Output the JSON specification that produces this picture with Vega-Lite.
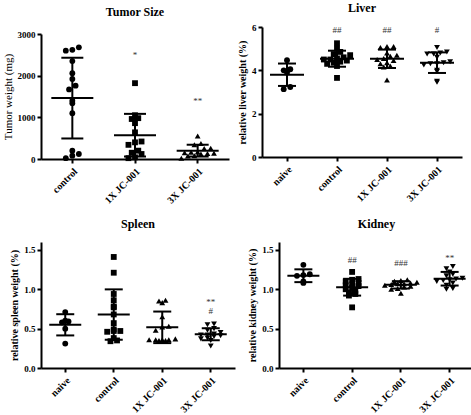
{
  "$schema": "https://vega.github.io/schema/vega-lite/v6.json",
  "padding": {"left": 2, "top": 2, "right": 0, "bottom": 0},
  "background": "white",
  "datasets": {
    "tumor": [
      {"group": "control", "value": 2620}, {"group": "control", "value": 2600}, {"group": "control", "value": 2680},
      {"group": "control", "value": 2350}, {"group": "control", "value": 2060}, {"group": "control", "value": 1920},
      {"group": "control", "value": 1760}, {"group": "control", "value": 1670}, {"group": "control", "value": 1400},
      {"group": "control", "value": 1340}, {"group": "control", "value": 1100}, {"group": "control", "value": 120},
      {"group": "control", "value": 200}, {"group": "control", "value": 80}, {"group": "control", "value": 20},
      {"group": "1X JC-001", "value": 1820}, {"group": "1X JC-001", "value": 1050}, {"group": "1X JC-001", "value": 980},
      {"group": "1X JC-001", "value": 960}, {"group": "1X JC-001", "value": 860}, {"group": "1X JC-001", "value": 640},
      {"group": "1X JC-001", "value": 420}, {"group": "1X JC-001", "value": 340}, {"group": "1X JC-001", "value": 400},
      {"group": "1X JC-001", "value": 200}, {"group": "1X JC-001", "value": 150}, {"group": "1X JC-001", "value": 120},
      {"group": "1X JC-001", "value": 40}, {"group": "1X JC-001", "value": 20},
      {"group": "3X JC-001", "value": 550}, {"group": "3X JC-001", "value": 370}, {"group": "3X JC-001", "value": 340},
      {"group": "3X JC-001", "value": 260}, {"group": "3X JC-001", "value": 250}, {"group": "3X JC-001", "value": 170},
      {"group": "3X JC-001", "value": 160}, {"group": "3X JC-001", "value": 150}, {"group": "3X JC-001", "value": 140},
      {"group": "3X JC-001", "value": 130}, {"group": "3X JC-001", "value": 120}, {"group": "3X JC-001", "value": 80},
      {"group": "3X JC-001", "value": 70}, {"group": "3X JC-001", "value": 20}
    ],
    "liver": [
      {"group": "naive", "value": 4.47}, {"group": "naive", "value": 4.05}, {"group": "naive", "value": 4.0},
      {"group": "naive", "value": 3.9}, {"group": "naive", "value": 3.13}, {"group": "naive", "value": 3.23},
      {"group": "control", "value": 5.25}, {"group": "control", "value": 5.0}, {"group": "control", "value": 4.85},
      {"group": "control", "value": 4.75}, {"group": "control", "value": 4.7}, {"group": "control", "value": 4.6},
      {"group": "control", "value": 4.55}, {"group": "control", "value": 4.5}, {"group": "control", "value": 4.5},
      {"group": "control", "value": 4.45}, {"group": "control", "value": 4.4}, {"group": "control", "value": 4.35},
      {"group": "control", "value": 4.3}, {"group": "control", "value": 4.2}, {"group": "control", "value": 3.65},
      {"group": "1X JC-001", "value": 5.1}, {"group": "1X JC-001", "value": 5.1}, {"group": "1X JC-001", "value": 5.05},
      {"group": "1X JC-001", "value": 4.8}, {"group": "1X JC-001", "value": 4.7}, {"group": "1X JC-001", "value": 4.65},
      {"group": "1X JC-001", "value": 4.55}, {"group": "1X JC-001", "value": 4.5}, {"group": "1X JC-001", "value": 4.45},
      {"group": "1X JC-001", "value": 4.35}, {"group": "1X JC-001", "value": 4.3}, {"group": "1X JC-001", "value": 4.2},
      {"group": "1X JC-001", "value": 4.15}, {"group": "1X JC-001", "value": 3.55},
      {"group": "3X JC-001", "value": 5.05}, {"group": "3X JC-001", "value": 4.85}, {"group": "3X JC-001", "value": 4.8},
      {"group": "3X JC-001", "value": 4.75}, {"group": "3X JC-001", "value": 4.75}, {"group": "3X JC-001", "value": 4.6},
      {"group": "3X JC-001", "value": 4.4}, {"group": "3X JC-001", "value": 4.35}, {"group": "3X JC-001", "value": 4.3},
      {"group": "3X JC-001", "value": 4.3}, {"group": "3X JC-001", "value": 4.25}, {"group": "3X JC-001", "value": 4.0},
      {"group": "3X JC-001", "value": 3.95}, {"group": "3X JC-001", "value": 3.5}, {"group": "3X JC-001", "value": 3.45}
    ],
    "spleen": [
      {"group": "naive", "value": 0.71}, {"group": "naive", "value": 0.6}, {"group": "naive", "value": 0.59},
      {"group": "naive", "value": 0.58}, {"group": "naive", "value": 0.5}, {"group": "naive", "value": 0.31},
      {"group": "control", "value": 1.41}, {"group": "control", "value": 1.21}, {"group": "control", "value": 0.94},
      {"group": "control", "value": 0.86}, {"group": "control", "value": 0.78}, {"group": "control", "value": 0.77},
      {"group": "control", "value": 0.68}, {"group": "control", "value": 0.57}, {"group": "control", "value": 0.49},
      {"group": "control", "value": 0.47}, {"group": "control", "value": 0.46}, {"group": "control", "value": 0.47},
      {"group": "control", "value": 0.38}, {"group": "control", "value": 0.35}, {"group": "control", "value": 0.34},
      {"group": "1X JC-001", "value": 0.86}, {"group": "1X JC-001", "value": 0.85}, {"group": "1X JC-001", "value": 0.83},
      {"group": "1X JC-001", "value": 0.65}, {"group": "1X JC-001", "value": 0.53}, {"group": "1X JC-001", "value": 0.52},
      {"group": "1X JC-001", "value": 0.48}, {"group": "1X JC-001", "value": 0.37}, {"group": "1X JC-001", "value": 0.36},
      {"group": "1X JC-001", "value": 0.36}, {"group": "1X JC-001", "value": 0.36}, {"group": "1X JC-001", "value": 0.36},
      {"group": "1X JC-001", "value": 0.35}, {"group": "1X JC-001", "value": 0.35},
      {"group": "3X JC-001", "value": 0.56}, {"group": "3X JC-001", "value": 0.55}, {"group": "3X JC-001", "value": 0.5},
      {"group": "3X JC-001", "value": 0.48}, {"group": "3X JC-001", "value": 0.45}, {"group": "3X JC-001", "value": 0.43},
      {"group": "3X JC-001", "value": 0.42}, {"group": "3X JC-001", "value": 0.42}, {"group": "3X JC-001", "value": 0.41},
      {"group": "3X JC-001", "value": 0.4}, {"group": "3X JC-001", "value": 0.38}, {"group": "3X JC-001", "value": 0.37},
      {"group": "3X JC-001", "value": 0.35}, {"group": "3X JC-001", "value": 0.28}
    ],
    "kidney": [
      {"group": "naive", "value": 1.31}, {"group": "naive", "value": 1.19}, {"group": "naive", "value": 1.18},
      {"group": "naive", "value": 1.17}, {"group": "naive", "value": 1.1}, {"group": "naive", "value": 1.08},
      {"group": "control", "value": 1.22}, {"group": "control", "value": 1.13}, {"group": "control", "value": 1.12},
      {"group": "control", "value": 1.1}, {"group": "control", "value": 1.08}, {"group": "control", "value": 1.06},
      {"group": "control", "value": 1.05}, {"group": "control", "value": 1.04}, {"group": "control", "value": 1.02},
      {"group": "control", "value": 1.0}, {"group": "control", "value": 0.98}, {"group": "control", "value": 0.96},
      {"group": "control", "value": 0.94}, {"group": "control", "value": 0.92}, {"group": "control", "value": 0.77},
      {"group": "1X JC-001", "value": 1.12}, {"group": "1X JC-001", "value": 1.11}, {"group": "1X JC-001", "value": 1.1},
      {"group": "1X JC-001", "value": 1.09}, {"group": "1X JC-001", "value": 1.08}, {"group": "1X JC-001", "value": 1.07},
      {"group": "1X JC-001", "value": 1.07}, {"group": "1X JC-001", "value": 1.06}, {"group": "1X JC-001", "value": 1.05},
      {"group": "1X JC-001", "value": 1.04}, {"group": "1X JC-001", "value": 1.03}, {"group": "1X JC-001", "value": 1.01},
      {"group": "1X JC-001", "value": 1.0}, {"group": "1X JC-001", "value": 0.95},
      {"group": "3X JC-001", "value": 1.29}, {"group": "3X JC-001", "value": 1.26}, {"group": "3X JC-001", "value": 1.22},
      {"group": "3X JC-001", "value": 1.19}, {"group": "3X JC-001", "value": 1.17}, {"group": "3X JC-001", "value": 1.14},
      {"group": "3X JC-001", "value": 1.13}, {"group": "3X JC-001", "value": 1.12}, {"group": "3X JC-001", "value": 1.11},
      {"group": "3X JC-001", "value": 1.1}, {"group": "3X JC-001", "value": 1.08}, {"group": "3X JC-001", "value": 1.05},
      {"group": "3X JC-001", "value": 1.01}, {"group": "3X JC-001", "value": 1.0}
    ],
    "annot": [
      {"panel": "tumor", "group": "1X JC-001", "value": 2500, "label": "*"},
      {"panel": "tumor", "group": "3X JC-001", "value": 1400, "label": "**"},
      {"panel": "liver", "group": "control", "value": 5.85, "label": "##"},
      {"panel": "liver", "group": "1X JC-001", "value": 5.85, "label": "##"},
      {"panel": "liver", "group": "3X JC-001", "value": 5.85, "label": "#"},
      {"panel": "spleen", "group": "3X JC-001", "value": 0.84, "label": "**"},
      {"panel": "spleen", "group": "3X JC-001", "value": 0.72, "label": "#"},
      {"panel": "kidney", "group": "control", "value": 1.37, "label": "##"},
      {"panel": "kidney", "group": "1X JC-001", "value": 1.33, "label": "###"},
      {"panel": "kidney", "group": "3X JC-001", "value": 1.4, "label": "**"}
    ]
  },
  "resolve": {"scale": {"shape": "independent", "x": "independent", "y": "independent", "xOffset": "independent"}},
  "vconcat": [
    {
      "resolve": {"scale": {"shape": "independent", "x": "independent", "y": "independent", "xOffset": "independent"}},
      "spacing": 8,
      "hconcat": [
        {
          "width": 188, "height": 132,
          "title": {"text": "Tumor Size", "offset": 8},
          "layer": [
            {
              "data": {"name": "tumor"},
              "transform": [
                {"calculate": "floor(datum.value / 150)", "as": "bin"},
                {"window": [{"op": "row_number", "as": "rn"}, {"op": "count", "as": "cnt"}], "groupby": ["group", "bin"], "sort": [{"field": "value", "order": "ascending"}], "frame": [null, null]},
                {"calculate": "datum.rn - (datum.cnt + 1) / 2", "as": "off"}
              ],
              "mark": {"type": "point", "filled": true, "size": 34, "color": "black", "opacity": 1},
              "encoding": {
                "x": {"field": "group", "type": "nominal", "scale": {"domain": ["control", "1X JC-001", "3X JC-001"], "paddingInner": 0, "paddingOuter": 0}, "axis": {"title": null}},
                "xOffset": {"field": "off", "type": "quantitative", "scale": {"domain": [-4.8, 4.8]}},
                "y": {"field": "value", "type": "quantitative", "scale": {"domain": [0, 3000], "range": [132, 7]}, "axis": {"title": "Tumor weight (mg)", "values": [0, 1000, 2000, 3000], "format": "d", "titleFontWeight": "normal", "titleFontSize": 11}},
                "shape": {"field": "group", "type": "nominal", "scale": {"domain": ["control", "1X JC-001", "3X JC-001"], "range": ["circle", "square", "triangle-up"]}, "legend": null}
              }
            },
            {
              "data": {"name": "tumor"},
              "transform": [
                {"aggregate": [{"op": "mean", "field": "value", "as": "m"}, {"op": "stdev", "field": "value", "as": "sd"}], "groupby": ["group"]},
                {"calculate": "datum.m - datum.sd", "as": "lo"},
                {"calculate": "datum.m + datum.sd", "as": "hi"}
              ],
              "encoding": {"x": {"field": "group", "type": "nominal"}},
              "layer": [
                {"mark": {"type": "rule", "strokeWidth": 2, "color": "black"}, "encoding": {"y": {"field": "lo", "type": "quantitative"}, "y2": {"field": "hi"}}},
                {"mark": {"type": "tick", "size": 22, "thickness": 2, "color": "black", "opacity": 1}, "encoding": {"y": {"field": "hi", "type": "quantitative"}}},
                {"mark": {"type": "tick", "size": 22, "thickness": 2, "color": "black", "opacity": 1}, "encoding": {"y": {"field": "lo", "type": "quantitative"}}},
                {"mark": {"type": "tick", "size": 42, "thickness": 2, "color": "black", "opacity": 1}, "encoding": {"y": {"field": "m", "type": "quantitative"}}}
              ]
            },
            {
              "data": {"name": "annot"},
              "transform": [{"filter": "datum.panel == 'tumor'"}],
              "mark": {"type": "text", "font": "Liberation Serif", "fontSize": 9, "color": "#333"},
              "encoding": {"x": {"field": "group", "type": "nominal"}, "y": {"field": "value", "type": "quantitative"}, "text": {"field": "label"}}
            }
          ]
        },
        {
          "width": 200, "height": 130,
          "title": {"text": "Liver", "offset": 8},
          "layer": [
            {
              "data": {"name": "liver"},
              "transform": [
                {"calculate": "floor(datum.value / 0.25)", "as": "bin"},
                {"window": [{"op": "row_number", "as": "rn"}, {"op": "count", "as": "cnt"}], "groupby": ["group", "bin"], "sort": [{"field": "value", "order": "ascending"}], "frame": [null, null]},
                {"calculate": "datum.rn - (datum.cnt + 1) / 2", "as": "off"}
              ],
              "mark": {"type": "point", "filled": true, "size": 34, "color": "black", "opacity": 1},
              "encoding": {
                "x": {"field": "group", "type": "nominal", "scale": {"domain": ["naive", "control", "1X JC-001", "3X JC-001"], "paddingInner": 0, "paddingOuter": 0}, "axis": {"title": null}},
                "xOffset": {"field": "off", "type": "quantitative", "scale": {"domain": [-3.8, 3.8]}},
                "y": {"field": "value", "type": "quantitative", "scale": {"domain": [0, 6]}, "axis": {"title": "relative liver weight (%)", "values": [0, 2, 4, 6]}},
                "shape": {"field": "group", "type": "nominal", "scale": {"domain": ["naive", "control", "1X JC-001", "3X JC-001"], "range": ["circle", "square", "triangle-up", "triangle-down"]}, "legend": null}
              }
            },
            {
              "data": {"name": "liver"},
              "transform": [
                {"aggregate": [{"op": "mean", "field": "value", "as": "m"}, {"op": "stdev", "field": "value", "as": "sd"}], "groupby": ["group"]},
                {"calculate": "datum.m - datum.sd", "as": "lo"},
                {"calculate": "datum.m + datum.sd", "as": "hi"}
              ],
              "encoding": {"x": {"field": "group", "type": "nominal"}},
              "layer": [
                {"mark": {"type": "rule", "strokeWidth": 2, "color": "black"}, "encoding": {"y": {"field": "lo", "type": "quantitative"}, "y2": {"field": "hi"}}},
                {"mark": {"type": "tick", "size": 18, "thickness": 2, "color": "black", "opacity": 1}, "encoding": {"y": {"field": "hi", "type": "quantitative"}}},
                {"mark": {"type": "tick", "size": 18, "thickness": 2, "color": "black", "opacity": 1}, "encoding": {"y": {"field": "lo", "type": "quantitative"}}},
                {"mark": {"type": "tick", "size": 34, "thickness": 2, "color": "black", "opacity": 1}, "encoding": {"y": {"field": "m", "type": "quantitative"}}}
              ]
            },
            {
              "data": {"name": "annot"},
              "transform": [{"filter": "datum.panel == 'liver'"}],
              "mark": {"type": "text", "font": "Liberation Serif", "fontSize": 9, "color": "#333"},
              "encoding": {"x": {"field": "group", "type": "nominal"}, "y": {"field": "value", "type": "quantitative"}, "text": {"field": "label"}}
            }
          ]
        }
      ]
    },
    {
      "resolve": {"scale": {"shape": "independent", "x": "independent", "y": "independent", "xOffset": "independent"}},
      "spacing": 12,
      "hconcat": [
        {
          "width": 194, "height": 126,
          "title": {"text": "Spleen", "offset": 11},
          "layer": [
            {
              "data": {"name": "spleen"},
              "transform": [
                {"calculate": "floor(datum.value / 0.06)", "as": "bin"},
                {"window": [{"op": "row_number", "as": "rn"}, {"op": "count", "as": "cnt"}], "groupby": ["group", "bin"], "sort": [{"field": "value", "order": "ascending"}], "frame": [null, null]},
                {"calculate": "datum.rn - (datum.cnt + 1) / 2", "as": "off"}
              ],
              "mark": {"type": "point", "filled": true, "size": 34, "color": "black", "opacity": 1},
              "encoding": {
                "x": {"field": "group", "type": "nominal", "scale": {"domain": ["naive", "control", "1X JC-001", "3X JC-001"], "paddingInner": 0, "paddingOuter": 0}, "axis": {"title": null}},
                "xOffset": {"field": "off", "type": "quantitative", "scale": {"domain": [-3.7, 3.7]}},
                "y": {"field": "value", "type": "quantitative", "scale": {"domain": [0, 1.5]}, "axis": {"title": "relative spleen weight (%)", "values": [0, 0.5, 1, 1.5], "format": ".1f"}},
                "shape": {"field": "group", "type": "nominal", "scale": {"domain": ["naive", "control", "1X JC-001", "3X JC-001"], "range": ["circle", "square", "triangle-up", "triangle-down"]}, "legend": null}
              }
            },
            {
              "data": {"name": "spleen"},
              "transform": [
                {"aggregate": [{"op": "mean", "field": "value", "as": "m"}, {"op": "stdev", "field": "value", "as": "sd"}], "groupby": ["group"]},
                {"calculate": "datum.m - datum.sd", "as": "lo"},
                {"calculate": "datum.m + datum.sd", "as": "hi"}
              ],
              "encoding": {"x": {"field": "group", "type": "nominal"}},
              "layer": [
                {"mark": {"type": "rule", "strokeWidth": 2, "color": "black"}, "encoding": {"y": {"field": "lo", "type": "quantitative"}, "y2": {"field": "hi"}}},
                {"mark": {"type": "tick", "size": 18, "thickness": 2, "color": "black", "opacity": 1}, "encoding": {"y": {"field": "hi", "type": "quantitative"}}},
                {"mark": {"type": "tick", "size": 18, "thickness": 2, "color": "black", "opacity": 1}, "encoding": {"y": {"field": "lo", "type": "quantitative"}}},
                {"mark": {"type": "tick", "size": 32, "thickness": 2, "color": "black", "opacity": 1}, "encoding": {"y": {"field": "m", "type": "quantitative"}}}
              ]
            },
            {
              "data": {"name": "annot"},
              "transform": [{"filter": "datum.panel == 'spleen'"}],
              "mark": {"type": "text", "font": "Liberation Serif", "fontSize": 9, "color": "#333"},
              "encoding": {"x": {"field": "group", "type": "nominal"}, "y": {"field": "value", "type": "quantitative"}, "text": {"field": "label"}}
            }
          ]
        },
        {
          "width": 195, "height": 126,
          "title": {"text": "Kidney", "offset": 11},
          "layer": [
            {
              "data": {"name": "kidney"},
              "transform": [
                {"calculate": "floor(datum.value / 0.05)", "as": "bin"},
                {"window": [{"op": "row_number", "as": "rn"}, {"op": "count", "as": "cnt"}], "groupby": ["group", "bin"], "sort": [{"field": "value", "order": "ascending"}], "frame": [null, null]},
                {"calculate": "datum.rn - (datum.cnt + 1) / 2", "as": "off"}
              ],
              "mark": {"type": "point", "filled": true, "size": 34, "color": "black", "opacity": 1},
              "encoding": {
                "x": {"field": "group", "type": "nominal", "scale": {"domain": ["naive", "control", "1X JC-001", "3X JC-001"], "paddingInner": 0, "paddingOuter": 0}, "axis": {"title": null}},
                "xOffset": {"field": "off", "type": "quantitative", "scale": {"domain": [-3.8, 3.8]}},
                "y": {"field": "value", "type": "quantitative", "scale": {"domain": [0, 1.5]}, "axis": {"title": "relative kidney weight (%)", "values": [0, 0.5, 1, 1.5], "format": ".1f"}},
                "shape": {"field": "group", "type": "nominal", "scale": {"domain": ["naive", "control", "1X JC-001", "3X JC-001"], "range": ["circle", "square", "triangle-up", "triangle-down"]}, "legend": null}
              }
            },
            {
              "data": {"name": "kidney"},
              "transform": [
                {"aggregate": [{"op": "mean", "field": "value", "as": "m"}, {"op": "stdev", "field": "value", "as": "sd"}], "groupby": ["group"]},
                {"calculate": "datum.m - datum.sd", "as": "lo"},
                {"calculate": "datum.m + datum.sd", "as": "hi"}
              ],
              "encoding": {"x": {"field": "group", "type": "nominal"}},
              "layer": [
                {"mark": {"type": "rule", "strokeWidth": 2, "color": "black"}, "encoding": {"y": {"field": "lo", "type": "quantitative"}, "y2": {"field": "hi"}}},
                {"mark": {"type": "tick", "size": 18, "thickness": 2, "color": "black", "opacity": 1}, "encoding": {"y": {"field": "hi", "type": "quantitative"}}},
                {"mark": {"type": "tick", "size": 18, "thickness": 2, "color": "black", "opacity": 1}, "encoding": {"y": {"field": "lo", "type": "quantitative"}}},
                {"mark": {"type": "tick", "size": 32, "thickness": 2, "color": "black", "opacity": 1}, "encoding": {"y": {"field": "m", "type": "quantitative"}}}
              ]
            },
            {
              "data": {"name": "annot"},
              "transform": [{"filter": "datum.panel == 'kidney'"}],
              "mark": {"type": "text", "font": "Liberation Serif", "fontSize": 9, "color": "#333"},
              "encoding": {"x": {"field": "group", "type": "nominal"}, "y": {"field": "value", "type": "quantitative"}, "text": {"field": "label"}}
            }
          ]
        }
      ]
    }
  ],
  "spacing": 12,
  "config": {
    "view": {"stroke": null},
    "title": {"font": "Liberation Serif", "fontSize": 12, "fontWeight": "bold", "color": "black", "anchor": "middle"},
    "axis": {
      "domainColor": "black", "domainWidth": 2, "tickColor": "black", "tickWidth": 2, "tickSize": 4,
      "labelFont": "Liberation Serif", "labelFontWeight": "bold", "labelFontSize": 9, "labelColor": "black",
      "titleFont": "Liberation Serif", "titleFontWeight": "bold", "titleFontSize": 10, "titleColor": "black",
      "grid": false, "labelPadding": 2, "titlePadding": 4
    },
    "axisX": {"labelAngle": -45, "labelAlign": "right", "labelBaseline": "top", "labelPadding": 3, "labelFontSize": 10},
    "axisY": {"labelPadding": 2}
  }
}
